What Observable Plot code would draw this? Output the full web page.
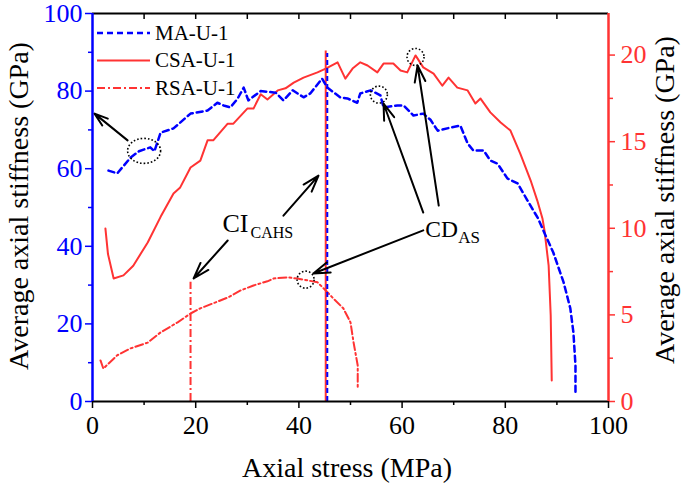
<!DOCTYPE html>
<html><head><meta charset="utf-8">
<script src="https://cdn.jsdelivr.net/npm/d3@7"></script>
<script src="https://cdn.jsdelivr.net/npm/@observablehq/plot@0.6"></script>
<style>
html,body{margin:0;padding:0;background:#fff;}
#chart{width:685px;height:489px;}
#chart svg, #chart svg text{font-family:"Liberation Serif","DejaVu Serif",serif !important;}
</style></head><body><div id="chart"></div>
<script>
// ---- data (stress in MPa; MA stiffness on left axis GPa; CSA/RSA on right axis GPa)
const maStress = [3.1,4.8,7.4,9.0,11.2,12.0,13.2,15.7,19.0,22.3,24.2,25.4,26.7,28.1,29.3,30.2,32.6,35.5,37.0,38.8,40.9,42.2,44.5,45.5,48.0,49.4,51.3,51.9,53.9,55.8,56.4,59.1,60.3,62.2,64.1,65.5,66.9,69.4,71.3,72.7,73.8,75.8,77.1,78.5,80.4,82.4,84.3,86.3,87.8,89.3,91.3,92.6,93.2,93.6,93.6];
const maStiff = [59.5,58.8,62.9,64.5,65.5,64.5,69.3,70.4,74.2,75.0,77.0,76.3,75.8,78.0,80.9,77.6,80.0,79.6,77.6,80.2,78.4,79.4,83.2,80.9,78.4,78.1,77.0,79.4,80.2,78.9,75.8,76.3,76.3,73.7,74.2,72.6,69.8,70.6,71.1,66.5,64.7,64.7,62.1,61.3,57.5,56.2,51.8,47.3,42.8,38.4,30.7,24.0,17.8,9.3,2.3];
const csaStress = [2.5,3.0,4.1,6.0,7.9,10.7,13.2,15.7,17.0,19.0,20.9,22.3,23.4,26.2,27.3,30.0,31.2,32.6,33.9,35.9,37.4,39.0,40.9,43.6,45.2,47.5,49.0,50.4,51.9,53.3,55.2,56.4,58.3,59.7,61.0,62.6,64.1,66.1,67.8,69.0,70.7,72.7,74.2,75.2,77.1,79.1,81.0,82.9,84.9,86.2,87.2,87.6,88.4,88.8,89.0];
const csaStiff = [9.99,8.51,7.10,7.28,7.84,9.18,10.66,12.01,12.36,13.51,13.91,15.08,15.08,16.04,16.04,16.91,16.91,17.74,17.43,17.96,18.08,18.41,18.70,19.00,19.22,19.58,18.64,19.22,19.58,19.40,19.00,19.51,19.51,19.11,19.00,19.98,19.29,18.93,18.23,18.70,18.12,17.96,17.20,17.49,16.69,16.11,15.64,14.31,12.77,11.60,10.57,9.86,7.84,4.97,1.21];
const rsaStress = [1.55,2.1,4.8,7.4,10.7,13.2,16.5,19.0,20.9,23.4,26.2,28.7,31.2,33.9,35.1,37.8,39.7,41.7,43.6,45.2,46.7,48.6,50.0,50.6,51.4,51.4];
const rsaStiff = [2.37,1.90,2.67,3.07,3.40,3.99,4.57,5.08,5.38,5.67,6.00,6.41,6.70,6.94,7.10,7.17,7.10,6.99,6.88,6.41,5.94,5.38,4.57,3.40,2.08,0.76];

// CI markers: MA (left units), CSA (right units), RSA (right units)
const ciStress = [45.5, 45.2, 19.0];
const ciStiff = [89.7, 20.24, 6.88];

// ticks
const xTicks = [0,20,40,60,80,100];
const xMinor = [10,30,50,70,90];
const topTicks = [10,20,30,40,50,60,70,80,90];
const leftTicks = [0,20,40,60,80,100];
const leftMinor = [10,30,50,70,90];
const rightTicks = [0,5,10,15,20];
const rightMinor = [2.5,7.5,12.5,17.5];
const rightMax = 22.4;

// annotations (left-axis units)
const circStress = [55.5, 62.6, 41.3];
const circStiff = [79.1, 88.8, 31.4];
const ellStress = [10.0];
const ellStiff = [64.6];
const arrX1 = [6.8, 37.0, 26.2, 64.1, 64.1, 67.1];
const arrY1 = [67.3, 47.9, 41.5, 44.1, 48.7, 50.5];
const arrX2 = [0.4, 43.8, 19.6, 42.8, 56.4, 63.0];
const arrY2 = [74.2, 58.2, 31.7, 33.0, 76.8, 86.6];
const labelMain = ["CI", "CD"];
const labelSub = ["CAHS", "AS"];
const labelStress = [25.2, 64.5];
const labelStiff = [43.6, 42.3];

const seriesNames = ["MA-U-1", "CSA-U-1", "RSA-U-1"];

// ---- build
const K = 100 / rightMax;
const blue = "#0000ff", red = "#ff3333";
const maData = maStress.map((x, i) => ({x, y: maStiff[i]}));
const csaData = csaStress.map((x, i) => ({x, y: csaStiff[i] * K}));
const rsaData = rsaStress.map((x, i) => ({x, y: rsaStiff[i] * K}));
const ciData = [
  {x: ciStress[0], y: ciStiff[0]},
  {x: ciStress[1], y: ciStiff[1] * K},
  {x: ciStress[2], y: ciStiff[2] * K}
];
const circData = circStress.map((x, i) => ({x, y: circStiff[i]}));
const ellData = ellStress.map((x, i) => ({x, y: ellStiff[i]}));
const arrData = arrX1.map((x1, i) => ({x1, y1: arrY1[i], x2: arrX2[i], y2: arrY2[i]}));
const lblData = labelMain.map((t, i) => ({t, s: labelSub[i], x: labelStress[i], y: labelStiff[i]}));

const ellipseSymbol = {
  draw(ctx) {
    const rx = 16.5, ry = 12.5, k = 0.5523;
    ctx.moveTo(rx, 0);
    ctx.bezierCurveTo(rx, ry * k, rx * k, ry, 0, ry);
    ctx.bezierCurveTo(-rx * k, ry, -rx, ry * k, -rx, 0);
    ctx.bezierCurveTo(-rx, -ry * k, -rx * k, -ry, 0, -ry);
    ctx.bezierCurveTo(rx * k, -ry, rx, -ry * k, rx, 0);
    ctx.closePath();
  }
};

const serif = "Liberation Serif";
const plot = Plot.plot({
  width: 685, height: 489,
  marginLeft: 92, marginRight: 77, marginTop: 13, marginBottom: 88,
  style: {fontFamily: serif, fontSize: "26px", background: "white", color: "black", overflow: "visible"},
  x: {domain: [0, 100], axis: null},
  y: {domain: [0, 100], axis: null},
  marks: [
    Plot.ruleX([ciData[2]], {x: "x", y1: 0, y2: "y", stroke: red, strokeWidth: 2, strokeDasharray: "8,3,2,3"}),
    Plot.line(rsaData, {x: "x", y: "y", stroke: red, strokeWidth: 2, strokeDasharray: "8,3,2,3"}),
    Plot.line(csaData, {x: "x", y: "y", stroke: red, strokeWidth: 2}),
    Plot.ruleX([ciData[1]], {x: "x", y1: 0, y2: "y", stroke: red, strokeWidth: 2}),
    Plot.line(maData, {x: "x", y: "y", stroke: blue, strokeWidth: 2.5, strokeDasharray: "6,4"}),
    Plot.ruleX([ciData[0]], {x: "x", y1: 0, y2: "y", stroke: blue, strokeWidth: 2, strokeDasharray: "5,3"}),
    // axes
    Plot.axisY(leftTicks, {anchor: "left", color: blue, tickSize: 7, tickPadding: 3, strokeWidth: 1.5, label: null}),
    Plot.axisY(leftMinor, {anchor: "left", stroke: blue, fill: "none", tickSize: 4, strokeWidth: 1.5, label: null}),
    Plot.axisY(rightTicks.map(v => v * K), {anchor: "right", color: red, tickSize: 6, tickPadding: 6, strokeWidth: 1.5, tickFormat: d => String(Math.round(d / K)), label: null}),
    Plot.axisY(rightMinor.map(v => v * K), {anchor: "right", stroke: red, fill: "none", tickSize: 4, strokeWidth: 1.5, label: null}),
    Plot.axisX(xTicks, {anchor: "bottom", tickSize: 7, tickPadding: 7, strokeWidth: 1.5, label: null}),
    Plot.axisX(xMinor, {anchor: "bottom", fill: "none", tickSize: 4, strokeWidth: 1.5, label: null}),
    Plot.axisX(topTicks, {anchor: "top", fill: "none", tickSize: 5, dy: 5, strokeWidth: 1.5, label: null}),
    Plot.ruleY([0], {stroke: "black", strokeWidth: 2}),
    Plot.ruleY([100], {stroke: "black", strokeWidth: 2}),
    Plot.ruleX([0], {stroke: blue, strokeWidth: 2.5}),
    Plot.ruleX([100], {stroke: red, strokeWidth: 2.5}),
    // annotations
    Plot.dot(circData, {x: "x", y: "y", r: 8.5, stroke: "black", strokeWidth: 1.6, strokeDasharray: "1.6,2", fill: "none"}),
    Plot.dot(ellData, {x: "x", y: "y", symbol: ellipseSymbol, stroke: "black", strokeWidth: 1.6, strokeDasharray: "1.6,2", fill: "none"}),
    Plot.arrow(arrData, {x1: "x1", y1: "y1", x2: "x2", y2: "y2", stroke: "black", strokeWidth: 2, headLength: 13, headAngle: 36}),
    // CI_CAHS label
    Plot.text([lblData[0]], {x: "x", y: "y", text: "t", textAnchor: "start", lineAnchor: "bottom", fontSize: 26, fill: "black"}),
    Plot.text([lblData[0]], {x: "x", y: "y", text: "s", textAnchor: "start", lineAnchor: "bottom", fontSize: 16, dx: 28, dy: 6, fill: "black"}),
    // CD_AS label
    Plot.text([lblData[1]], {x: "x", y: "y", text: "t", textAnchor: "start", lineAnchor: "bottom", fontSize: 23.5, fill: "black"}),
    Plot.text([lblData[1]], {x: "x", y: "y", text: "s", textAnchor: "start", lineAnchor: "bottom", fontSize: 17, dx: 33, dy: 6, fill: "black"})
  ]
});
document.getElementById("chart").appendChild(plot);

// titles & legend
const svg = d3.select(plot);
svg.append("text").attr("transform", "translate(28,206) rotate(-90)").attr("text-anchor", "middle")
  .attr("font-size", 28).attr("fill", "black").text("Average axial stiffness (GPa)");
svg.append("text").attr("transform", "translate(674,200) rotate(-90)").attr("text-anchor", "middle")
  .attr("font-size", 28).attr("fill", "black").text("Average axial stiffness (GPa)");
svg.append("text").attr("x", 347).attr("y", 477).attr("text-anchor", "middle")
  .attr("font-size", 28).attr("fill", "black").text("Axial stress (MPa)");

const legStyles = [
  {stroke: blue, dash: "6,4", w: 2.5},
  {stroke: red, dash: null, w: 2},
  {stroke: red, dash: "8,3,2,3", w: 2}
];
const leg = svg.append("g");
seriesNames.forEach((name, i) => {
  const y = 33 + i * 27.5;
  leg.append("line").attr("x1", 97).attr("x2", 150).attr("y1", y).attr("y2", y)
    .attr("stroke", legStyles[i].stroke).attr("stroke-width", legStyles[i].w)
    .attr("stroke-dasharray", legStyles[i].dash);
  leg.append("text").attr("x", 155).attr("y", y + 6.5).attr("text-anchor", "start")
    .attr("font-size", 21).attr("fill", "black").text(name);
});
</script>
</body></html>
